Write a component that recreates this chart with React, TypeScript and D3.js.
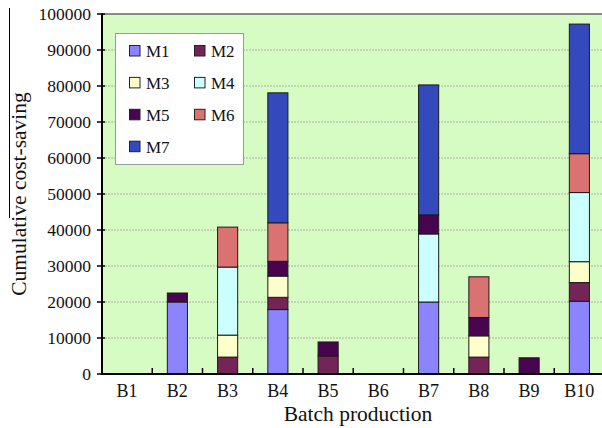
import * as d3 from "d3";

const BATCHES = ["B1", "B2", "B3", "B4", "B5", "B6", "B7", "B8", "B9", "B10"];
const SERIES = ["M1", "M2", "M3", "M4", "M5", "M6", "M7"];
const M1 = [0, 20000, 0, 17900, 0, 0, 20000, 0, 0, 20200];
const M2 = [0, 0, 4700, 3400, 5000, 0, 0, 4700, 0, 5200];
const M3 = [0, 0, 6100, 5900, 0, 0, 0, 5900, 0, 5800];
const M4 = [0, 0, 18900, 0, 0, 0, 18900, 0, 0, 19200];
const M5 = [0, 2500, 0, 4100, 3900, 0, 5300, 5100, 4500, 0];
const M6 = [0, 0, 11100, 10700, 0, 0, 0, 11300, 0, 10800];
const M7 = [0, 0, 0, 36100, 0, 0, 36100, 0, 0, 36000];
const Y_TICKS = [0, 10000, 20000, 30000, 40000, 50000, 60000, 70000, 80000, 90000, 100000];

const COLORS: Record<string, string> = {
  M1: "#8c84ff",
  M2: "#742456",
  M3: "#ffffcc",
  M4: "#ccffff",
  M5: "#48044e",
  M6: "#da7272",
  M7: "#3449bc",
};

const W = 602, H = 428;
const m = { left: 102, top: 14, right: 604.5, bottom: 374 };
const FONT = "'Liberation Serif', 'Times New Roman', serif";

export default function App() {
  const rows = BATCHES.map((b, i) => ({
    batch: b,
    M1: M1[i], M2: M2[i], M3: M3[i], M4: M4[i], M5: M5[i], M6: M6[i], M7: M7[i],
  }));
  const stacked = d3.stack<any>().keys(SERIES)(rows);

  const x = d3.scaleBand().domain(BATCHES).range([m.left, m.right]).paddingInner(0.6).paddingOuter(0.3);
  const y = d3.scaleLinear().domain([0, 100000]).range([m.bottom, m.top]);
  const step = x.step();
  const x0 = m.left;

  // legend layout
  const lg = { x: 115.5, y: 33.5, w: 128, h: 131 };
  const legendPos = SERIES.map((s, i) => ({
    s,
    sx: i % 2 === 0 ? 129.5 : 194.5,
    cy: 51 + Math.floor(i / 2) * 31.9,
  }));

  return (
    <>
      <style>{"body{margin:0}"}</style>
      <svg width={W} height={H} style={{ display: "block", background: "#fff" }} fontFamily={FONT}>
        <rect x={m.left} y={m.top} width={W - m.left} height={m.bottom - m.top} fill="#d6fbc3" />

        {/* grid */}
        {Y_TICKS.filter(t => t > 0 && t < 100000).map(t => (
          <line key={t} x1={m.left} x2={W} y1={y(t)} y2={y(t)}
            stroke="#a9b5a0" strokeWidth={1} strokeDasharray="2,1" />
        ))}

        {/* bars */}
        {stacked.map(layer => (
          <g key={layer.key}>
            {layer.map((d, i) => {
              const h = y(d[0]) - y(d[1]);
              if (h <= 0) return null;
              return (
                <rect key={i} x={x(BATCHES[i])!} y={y(d[1])} width={x.bandwidth()} height={h}
                  fill={COLORS[layer.key]} stroke="#1a1a1a" strokeWidth={1} />
              );
            })}
          </g>
        ))}

        {/* frame */}
        <line x1={m.left} x2={W} y1={m.top} y2={m.top} stroke="#666" strokeWidth={1.5} />
        <line x1={m.left} x2={m.left} y1={m.top - 0.5} y2={m.bottom + 1} stroke="#000" strokeWidth={2} />
        <line x1={m.left - 1} x2={W} y1={m.bottom} y2={m.bottom} stroke="#000" strokeWidth={2} />

        {/* y ticks */}
        {Y_TICKS.map(t => (
          <g key={t}>
            <line x1={m.left - 5} x2={m.left + 3} y1={y(t)} y2={y(t)} stroke="#000" strokeWidth={1.5} />
            <text x={91} y={y(t)} dy="0.34em" textAnchor="end" fontSize={17.5} fill="#111">{t}</text>
          </g>
        ))}

        {/* x ticks and labels */}
        {BATCHES.map((b, i) => (
          <g key={b}>
            {i > 0 && (
              <line x1={x0 + i * step} x2={x0 + i * step} y1={m.bottom} y2={m.bottom - 6}
                stroke="#000" strokeWidth={1.5} />
            )}
            <text x={x(b)! + x.bandwidth() / 2} y={397} textAnchor="middle" fontSize={18} fill="#111">{b}</text>
          </g>
        ))}

        {/* axis titles */}
        <text x={358} y={421} textAnchor="middle" fontSize={21.5} fill="#111">Batch production</text>
        <text transform="translate(26,194) rotate(-90)" textAnchor="middle" fontSize={21.5} fill="#111">
          Cumulative cost-saving
        </text>
        <line x1={9.5} x2={9.5} y1={8} y2={218} stroke="#000" strokeWidth={1} />

        {/* legend */}
        <rect x={lg.x} y={lg.y} width={lg.w} height={lg.h} fill="#fff" stroke="#9a9a9a" strokeWidth={1} />
        {legendPos.map(p => (
          <g key={p.s}>
            <rect x={p.sx} y={p.cy - 5.5} width={10.5} height={10.5} fill={COLORS[p.s]} stroke="#222" strokeWidth={1} />
            <text x={p.sx + 16.5} y={p.cy} dy="0.35em" fontSize={17} fill="#111">{p.s}</text>
          </g>
        ))}
      </svg>
    </>
  );
}
